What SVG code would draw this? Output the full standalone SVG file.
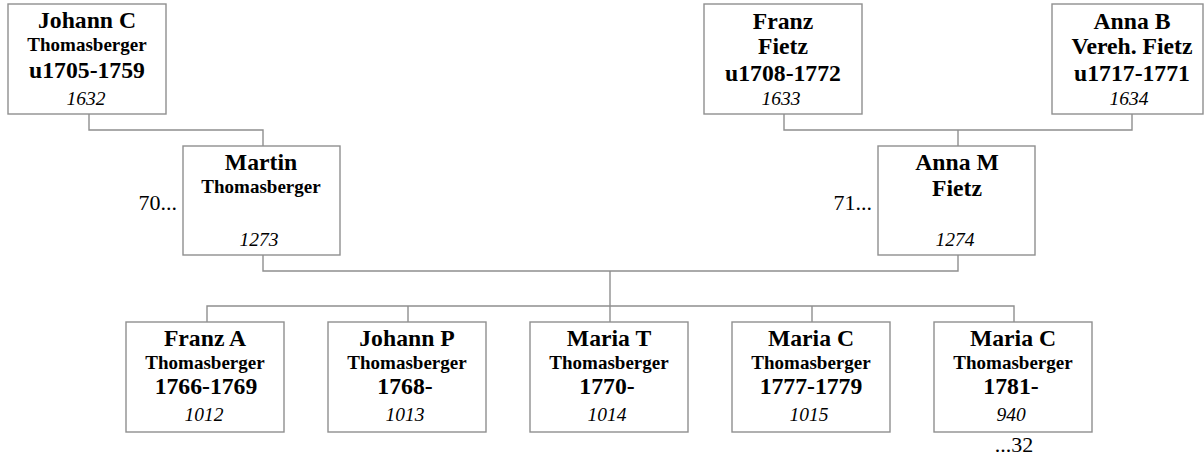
<svg xmlns="http://www.w3.org/2000/svg" width="1204" height="461" viewBox="0 0 1204 461">
<style>
.box{fill:#fff;stroke:#8f8f8f;stroke-width:1.4}
.ln{fill:none;stroke:#8f8f8f;stroke-width:1.4}
text{font-family:"Liberation Serif","Times New Roman",serif;text-anchor:middle;fill:#000}
.n{font-weight:bold;font-size:23.7px}
.s{font-weight:bold;font-size:19px}
.i{font-style:italic;font-size:19.5px}
.r{font-size:22px}
</style>
<rect width="1204" height="461" fill="#fff"/>
<g id="connectors">
<path class="ln" d="M89 114V130H263V146"/>
<path class="ln" d="M784 114V130H1132V114M958 130V146"/>
<path class="ln" d="M263 255V271H958V255M610 271V306"/>
<path class="ln" d="M207 322V306H1014V322M408 306V322M610 306V322M812 306V322"/>
</g>
<g id="johann_c">
<rect class="box" x="8" y="4" width="158" height="110"/>
<text class="n" x="87" y="28">Johann C</text>
<text class="s" x="87" y="51">Thomasberger</text>
<text class="n" x="87" y="78">u1705-1759</text>
<text class="i" x="86" y="105">1632</text>
</g>
<g id="franz_fietz">
<rect class="box" x="704" y="4" width="158" height="110"/>
<text class="n" x="783" y="29">Franz</text>
<text class="n" x="783" y="54">Fietz</text>
<text class="n" x="783" y="81">u1708-1772</text>
<text class="i" x="781" y="105">1633</text>
</g>
<g id="anna_b">
<rect class="box" x="1052" y="4" width="151" height="110"/>
<text class="n" x="1132" y="29">Anna B</text>
<text class="n" x="1132" y="54">Vereh. Fietz</text>
<text class="n" x="1132" y="81">u1717-1771</text>
<text class="i" x="1129" y="105">1634</text>
</g>
<g id="martin">
<rect class="box" x="183" y="146" width="157" height="109"/>
<text class="n" x="261" y="170">Martin</text>
<text class="s" x="261" y="193">Thomasberger</text>
<text class="i" x="259" y="246">1273</text>
<text class="r" x="177" y="210" style="text-anchor:end">70...</text>
</g>
<g id="anna_m">
<rect class="box" x="878" y="146" width="157" height="109"/>
<text class="n" x="957" y="170">Anna M</text>
<text class="n" x="957" y="196">Fietz</text>
<text class="i" x="955" y="246">1274</text>
<text class="r" x="872" y="210" style="text-anchor:end">71...</text>
</g>
<g id="franz_a">
<rect class="box" x="126" y="322" width="158" height="110"/>
<text class="n" x="205" y="346">Franz A</text>
<text class="s" x="205" y="369">Thomasberger</text>
<text class="n" x="206" y="394">1766-1769</text>
<text class="i" x="204" y="421">1012</text>
</g>
<g id="johann_p">
<rect class="box" x="328" y="322" width="158" height="110"/>
<text class="n" x="407" y="346">Johann P</text>
<text class="s" x="407" y="369">Thomasberger</text>
<text class="n" x="405" y="394">1768-</text>
<text class="i" x="405" y="421">1013</text>
</g>
<g id="maria_t">
<rect class="box" x="530" y="322" width="158" height="110"/>
<text class="n" x="609" y="346">Maria T</text>
<text class="s" x="609" y="369">Thomasberger</text>
<text class="n" x="607" y="394">1770-</text>
<text class="i" x="607" y="421">1014</text>
</g>
<g id="maria_c_1777">
<rect class="box" x="732" y="322" width="158" height="110"/>
<text class="n" x="811" y="346">Maria C</text>
<text class="s" x="811" y="369">Thomasberger</text>
<text class="n" x="811" y="394">1777-1779</text>
<text class="i" x="809" y="421">1015</text>
</g>
<g id="maria_c_1781">
<rect class="box" x="934" y="322" width="158" height="110"/>
<text class="n" x="1013" y="346">Maria C</text>
<text class="s" x="1013" y="369">Thomasberger</text>
<text class="n" x="1011" y="394">1781-</text>
<text class="i" x="1011" y="421">940</text>
<text class="r" x="1014" y="452">...32</text>
</g>
</svg>
